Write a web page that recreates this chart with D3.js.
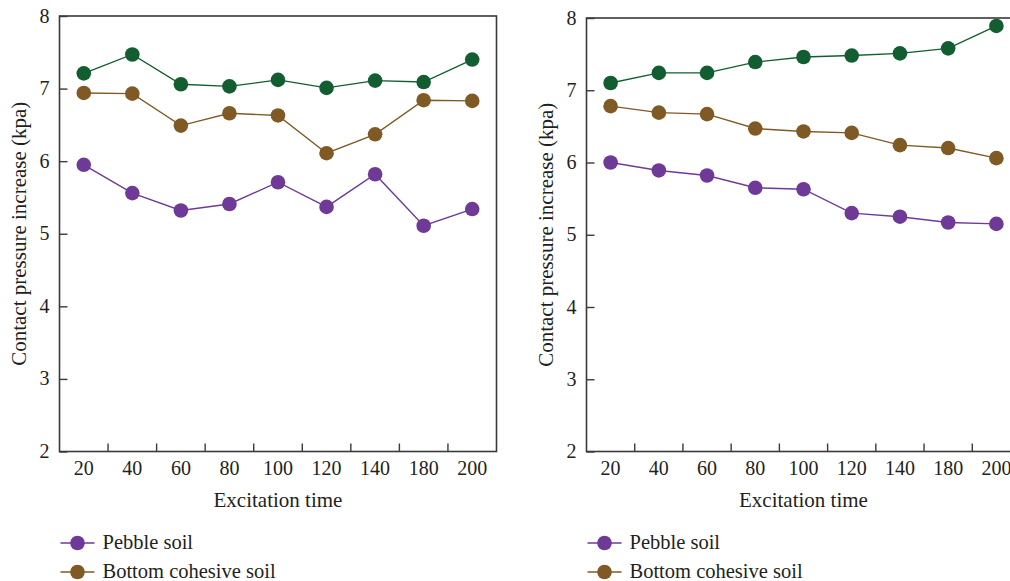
<!DOCTYPE html>
<html>
<head>
<meta charset="utf-8">
<script src="https://cdn.jsdelivr.net/npm/d3@7"></script>
<style>
html,body{margin:0;padding:0;background:#fff;}
svg{display:block;}
</style>
</head>
<body>
<svg id="chart" width="1010" height="581"></svg>
<script>
const categories = ["20","40","60","80","100","120","140","180","200"];
const yTicks = [2,3,4,5,6,7,8];
const seriesNames = ["Pebble soil","Bottom cohesive soil","Dense soil"];
const seriesColors = ["#6f3a97","#805a24","#135e31"];

// Left panel
const leftPebble   = [5.95,5.56,5.32,5.41,5.71,5.37,5.82,5.11,5.34];
const leftCohesive = [6.94,6.93,6.49,6.66,6.63,6.11,6.37,6.84,6.83];
const leftGreen    = [7.21,7.47,7.06,7.03,7.12,7.01,7.11,7.09,7.40];

// Right panel
const rightPebble   = [6.00,5.89,5.82,5.65,5.63,5.30,5.25,5.17,5.15];
const rightCohesive = [6.78,6.69,6.67,6.47,6.43,6.41,6.24,6.20,6.06];
const rightGreen    = [7.10,7.24,7.24,7.39,7.46,7.48,7.51,7.58,7.89];

const FONT = '"Liberation Serif", "Times New Roman", serif';
const svg = d3.select("#chart");

function txt(g) {
  return g.append("text").style("font-family", FONT).attr("fill", "#231f20");
}

function panel(cfg, data) {
  const g = svg.append("g");
  const x = d3.scaleBand().domain(categories).range([cfg.left, cfg.right]).padding(0);
  const y = d3.scaleLinear().domain([2, 8]).range([cfg.bottom, cfg.top]);

  // frame
  g.append("rect")
    .attr("x", cfg.left).attr("y", cfg.top)
    .attr("width", cfg.right - cfg.left).attr("height", cfg.bottom - cfg.top)
    .attr("fill", "none").attr("stroke", "#3a3a3a").attr("stroke-width", 1.6);

  // y ticks (inward)
  const ya = g.append("g").attr("transform", `translate(${cfg.left},0)`)
    .call(d3.axisRight(y).tickValues(yTicks).tickSize(8).tickFormat(""));
  ya.select(".domain").remove();
  ya.selectAll("line").attr("stroke", "#3a3a3a").attr("stroke-width", 1.4);
  yTicks.forEach(d => {
    txt(g).attr("x", cfg.left - 10).attr("y", y(d) + 6.5)
      .attr("text-anchor", "end").attr("font-size", 20).text(d);
  });

  // x ticks at band boundaries (upward)
  const bounds = categories.slice(1).map(c => x(c));
  g.selectAll(".xt").data(bounds).enter().append("line")
    .attr("x1", d => d).attr("x2", d => d)
    .attr("y1", cfg.bottom).attr("y2", cfg.bottom - 8)
    .attr("stroke", "#3a3a3a").attr("stroke-width", 1.4);
  categories.forEach(c => {
    txt(g).attr("x", x(c) + x.bandwidth() / 2).attr("y", cfg.bottom + 23)
      .attr("text-anchor", "middle").attr("font-size", 20).text(c);
  });

  // axis titles
  txt(g).attr("x", (cfg.left + cfg.right) / 2).attr("y", cfg.bottom + 55)
    .attr("text-anchor", "middle").attr("font-size", 21).text("Excitation time");
  txt(g).attr("transform", `translate(${cfg.ytx},${(cfg.top + cfg.bottom) / 2}) rotate(-90)`)
    .attr("text-anchor", "middle").attr("font-size", 21).text("Contact pressure increase (kpa)");

  const line = d3.line().x((d, i) => x(categories[i]) + x.bandwidth() / 2).y(d => y(d));
  data.forEach((vals, si) => {
    g.append("path").datum(vals).attr("d", line)
      .attr("fill", "none").attr("stroke", seriesColors[si]).attr("stroke-width", 1.4);
    g.selectAll(null).data(vals).enter().append("circle")
      .attr("cx", (d, i) => x(categories[i]) + x.bandwidth() / 2)
      .attr("cy", d => y(d)).attr("r", 7.3).attr("fill", seriesColors[si]);
  });

  // legend (first two items visible)
  [0, 1].forEach((si, k) => {
    const ly = cfg.legY + k * 29;
    g.append("line").attr("x1", cfg.left + 1).attr("x2", cfg.left + 35)
      .attr("y1", ly).attr("y2", ly).attr("stroke", seriesColors[si]).attr("stroke-width", 1.4);
    g.append("circle").attr("cx", cfg.left + 18).attr("cy", ly).attr("r", 7.3).attr("fill", seriesColors[si]);
    txt(g).attr("x", cfg.left + 43).attr("y", ly + 5.5)
      .attr("font-size", 20.5).text(seriesNames[si]);
  });
}

panel({left: 59.5, right: 496.5, top: 16, bottom: 451.5, ytx: 26, legY: 543},
      [leftPebble, leftCohesive, leftGreen]);
panel({left: 586.5, right: 1020.5, top: 18, bottom: 451.5, ytx: 553, legY: 543},
      [rightPebble, rightCohesive, rightGreen]);
</script>
</body>
</html>
